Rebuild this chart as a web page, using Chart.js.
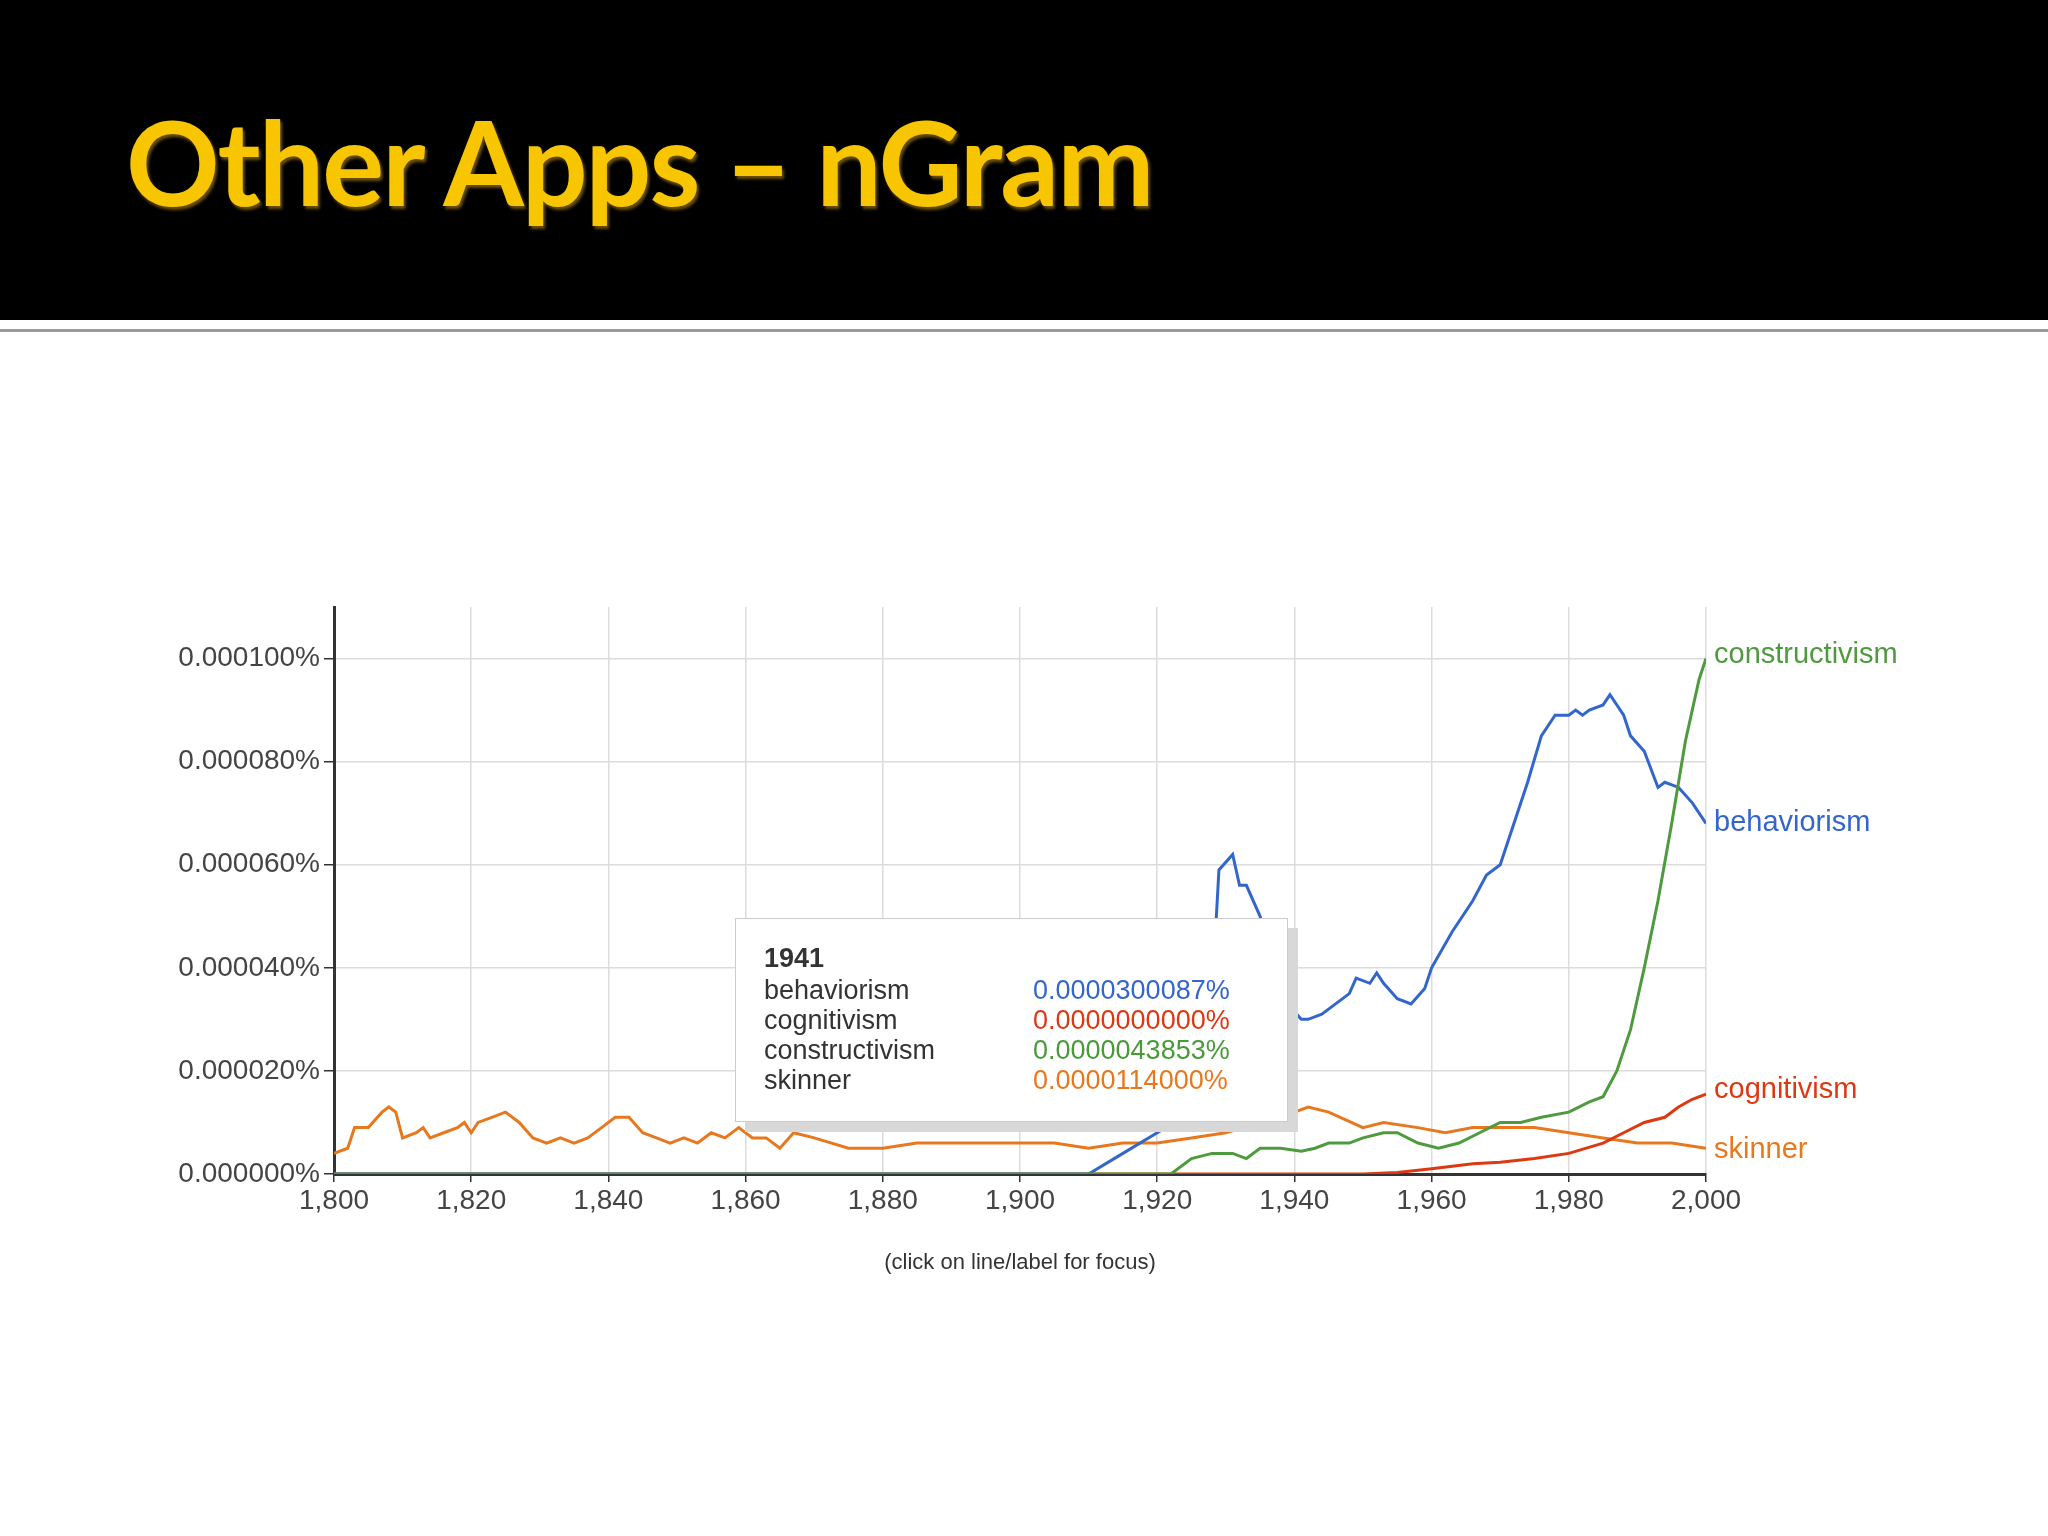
<!DOCTYPE html>
<html>
<head>
<meta charset="utf-8">
<script src="https://cdn.jsdelivr.net/npm/chart.js@4.4.1/dist/chart.umd.min.js"></script>
<style>
  html, body { margin: 0; padding: 0; background: #fff; }
  body { width: 2048px; height: 1536px; position: relative; overflow: hidden; font-family: "Liberation Sans", Arial, sans-serif; }
  #header { position: absolute; left: 0; top: 0; width: 2048px; height: 320px; background: #000; }
  #rule { position: absolute; left: 0; top: 329px; width: 2048px; height: 3px; background: #9a9a9a; }
  #title { position: absolute; left: 126px; top: 104px; font-family: Lato, "Open Sans", sans-serif; font-weight: 700; font-size: 116px; color: #f7c600; letter-spacing: -2px; text-shadow: 2px 3px 3px #6a5000; line-height: 1; }
  #wrap { position: absolute; left: 0; top: 560px; width: 2048px; height: 700px; }
  #tip { position: absolute; left: 735px; top: 918px; width: 551px; height: 202px; background: #fff; border: 1px solid #ccc; box-shadow: 10px 10px 0 #d8d8d8; font-size: 27px; color: #333; }
  #tip .yr { position: absolute; left: 28px; top: 24px; font-weight: bold; }
  #tip .row { position: absolute; left: 28px; }
  #tip .val { position: absolute; left: 297px; }
  #caption { position: absolute; left: 0; width: 2040px; top: 1249px; text-align: center; font-size: 22px; color: #333; }
</style>
</head>
<body>
<div id="header"><div id="title">Other Apps – nGram</div></div>
<div id="rule"></div>
<div id="wrap"><canvas id="chart" width="2048" height="700"></canvas></div>
<div id="tip">
  <div class="yr">1941</div>
  <div class="row" style="top:56px">behaviorism</div><div class="val" style="top:56px;color:#3366cc">0.0000300087%</div>
  <div class="row" style="top:86px">cognitivism</div><div class="val" style="top:86px;color:#dc3912">0.0000000000%</div>
  <div class="row" style="top:116px">constructivism</div><div class="val" style="top:116px;color:#4a9a3a">0.0000043853%</div>
  <div class="row" style="top:146px">skinner</div><div class="val" style="top:146px;color:#e8781e">0.0000114000%</div>
</div>
<div id="caption">(click on line/label for focus)</div>
<script>
// values in units of 1e-6 %
const skinnerYears = [1800,1802,1803,1805,1807,1808,1809,1810,1812,1813,1814,1816,1818,1819,1820,1821,1823,1825,1827,1829,1831,1833,1835,1837,1839,1841,1843,1845,1847,1849,1851,1853,1855,1857,1859,1861,1863,1865,1867,1870,1875,1880,1885,1890,1895,1900,1905,1910,1915,1920,1925,1930,1935,1940,1942,1945,1950,1953,1958,1962,1966,1970,1975,1980,1985,1990,1995,2000];
const skinnerVals  = [4,5,9,9,12,13,12,7,8,9,7,8,9,10,8,10,11,12,10,7,6,7,6,7,9,11,11,8,7,6,7,6,8,7,9,7,7,5,8,7,5,5,6,6,6,6,6,5,6,6,7,8,10,12,13,12,9,10,9,8,9,9,9,8,7,6,6,5];

const behavYears = [1800,1910,1915,1920,1925,1928,1929,1931,1932,1933,1935,1937,1939,1941,1942,1944,1946,1948,1949,1951,1952,1953,1955,1957,1959,1960,1963,1966,1968,1970,1972,1974,1976,1978,1980,1981,1982,1983,1985,1986,1988,1989,1991,1993,1994,1996,1998,2000];
const behavVals  = [0,0,4,8,12,35,59,62,56,56,50,40,33,30,30,31,33,35,38,37,39,37,34,33,36,40,47,53,58,60,68,76,85,89,89,90,89,90,91,93,89,85,82,75,76,75,72,68];

const constrYears = [1800,1922,1925,1928,1931,1933,1935,1938,1941,1943,1945,1948,1950,1953,1955,1958,1961,1964,1967,1970,1973,1976,1980,1983,1985,1987,1989,1991,1993,1995,1997,1999,2000];
const constrVals  = [0,0,3,4,4,3,5,5,4.4,5,6,6,7,8,8,6,5,6,8,10,10,11,12,14,15,20,28,40,53,68,84,96,100];

const cognYears = [1800,1950,1955,1960,1963,1966,1970,1975,1980,1985,1988,1991,1994,1996,1998,2000];
const cognVals  = [0,0,0.3,1,1.5,2,2.3,3,4,6,8,10,11,13,14.5,15.5];

const xTicks = [1800,1820,1840,1860,1880,1900,1920,1940,1960,1980,2000];
const yTicks = [0,20,40,60,80,100];

const pts = (ys, vs) => ys.map((y, i) => ({ x: y, y: vs[i] }));

const series = [
  { label: "constructivism", color: "#4e9a3e", data: pts(constrYears, constrVals) },
  { label: "behaviorism", color: "#3366cc", data: pts(behavYears, behavVals) },
  { label: "cognitivism", color: "#dc3912", data: pts(cognYears, cognVals) },
  { label: "skinner", color: "#e8781e", data: pts(skinnerYears, skinnerVals) }
];

const endLabels = {
  id: "endLabels",
  afterDatasetsDraw(chart) {
    const ctx = chart.ctx;
    const offsets = { constructivism: -4, behaviorism: 0, cognitivism: -4, skinner: 2 };
    ctx.save();
    ctx.font = "29px 'Liberation Sans', Arial, sans-serif";
    ctx.textBaseline = "middle";
    chart.data.datasets.forEach((ds, i) => {
      const pt = chart.getDatasetMeta(i).data[ds.data.length - 1];
      ctx.fillStyle = ds.borderColor;
      ctx.fillText(ds.label, pt.x + 8, pt.y + offsets[ds.label]);
    });
    ctx.restore();
  }
};

new Chart(document.getElementById("chart"), {
  type: "line",
  data: {
    datasets: series.map(s => ({
      label: s.label, data: s.data, borderColor: s.color, borderWidth: 3,
      pointRadius: 0, tension: 0, fill: false
    }))
  },
  options: {
    responsive: false,
    animation: false,
    layout: { padding: { top: 47, right: 342, left: 0, bottom: 0 } },
    plugins: { legend: { display: false }, tooltip: { enabled: false } },
    scales: {
      x: {
        type: "linear", min: 1800, max: 2000,
        afterBuildTicks: a => { a.ticks = xTicks.map(v => ({ value: v })); },
        afterFit: a => { a.height = 86; },
        grid: { color: "#dcdcdc", lineWidth: 1.5, tickLength: 8, tickColor: "#333" },
        border: { color: "#333", width: 3 },
        ticks: { color: "#444", font: { size: 28, family: "'Liberation Sans', Arial" }, maxRotation: 0, padding: 2 }
      },
      y: {
        min: 0, max: 110,
        afterBuildTicks: a => { a.ticks = yTicks.map(v => ({ value: v })); },
        afterFit: a => { a.width = 334; },
        grid: { color: "#dcdcdc", lineWidth: 1.5, tickLength: 10, tickColor: "#333" },
        border: { color: "#333", width: 3 },
        ticks: {
          color: "#444", font: { size: 28, family: "'Liberation Sans', Arial" }, padding: 4,
          callback: v => (v / 1e6).toFixed(6) + "%"
        }
      }
    }
  },
  plugins: [endLabels]
});
</script>
</body>
</html>
